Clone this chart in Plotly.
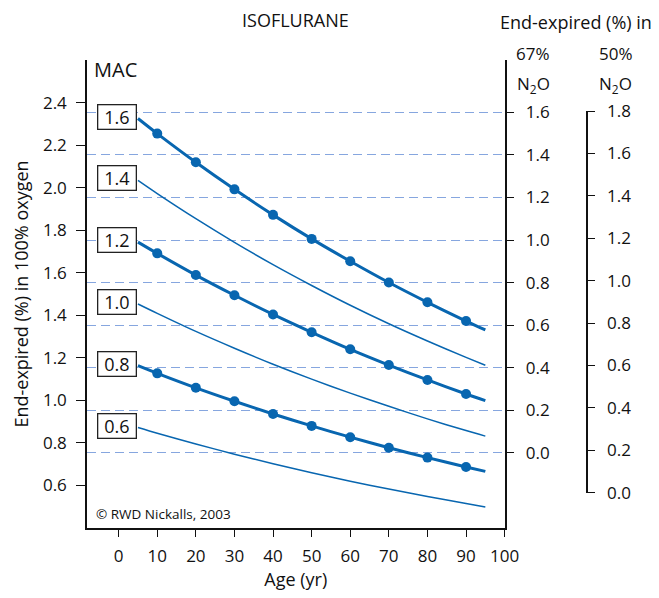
import plotly.graph_objects as go

# ---- data ----
ages = [5, 10, 20, 30, 40, 50, 60, 70, 80, 90, 95]
marker_ages = [10, 20, 30, 40, 50, 60, 70, 80, 90]
mac_labels = ["1.6", "1.4", "1.2", "1.0", "0.8", "0.6"]
mac_1_6 = [2.325, 2.254, 2.119, 1.992, 1.872, 1.759, 1.654, 1.554, 1.461, 1.373, 1.331]
mac_1_4 = [2.034, 1.972, 1.854, 1.743, 1.638, 1.540, 1.447, 1.360, 1.279, 1.202, 1.165]
mac_1_2 = [1.744, 1.691, 1.589, 1.494, 1.404, 1.320, 1.240, 1.166, 1.096, 1.030, 0.999]
mac_1_0 = [1.453, 1.409, 1.324, 1.245, 1.170, 1.100, 1.034, 0.972, 0.913, 0.858, 0.832]
mac_0_8 = [1.163, 1.127, 1.059, 0.996, 0.936, 0.880, 0.827, 0.777, 0.731, 0.687, 0.666]
mac_0_6 = [0.872, 0.845, 0.795, 0.747, 0.702, 0.660, 0.620, 0.583, 0.548, 0.515, 0.499]
series = [mac_1_6, mac_1_4, mac_1_2, mac_1_0, mac_0_8, mac_0_6]
thick = [True, False, True, False, True, False]

x_ticks = [0, 10, 20, 30, 40, 50, 60, 70, 80, 90, 100]
left_ticks = [0.6, 0.8, 1.0, 1.2, 1.4, 1.6, 1.8, 2.0, 2.2, 2.4]
n2o67_ticks = [0.0, 0.2, 0.4, 0.6, 0.8, 1.0, 1.2, 1.4, 1.6]
n2o50_ticks = [0.0, 0.2, 0.4, 0.6, 0.8, 1.0, 1.2, 1.4, 1.6, 1.8]

BLUE = "#0866b0"
GRID = "#86a6df"
FONT = "Open Sans"
INK = "#111"

W, H = 659, 598
ML, MR, MT, MB = 87, 20, 60, 65
PW, PH = W - ML - MR, H - MT - MB


def px(x):
    return (x - ML) / PW


def py(y):
    return (H - MB - y) / PH


fig = go.Figure()
for vals, tk in zip(series, thick):
    fig.add_trace(go.Scatter(x=ages, y=vals, mode="lines",
                             line=dict(color=BLUE, width=3 if tk else 1.5,
                                       shape="spline", smoothing=0.8),
                             showlegend=False, hoverinfo="skip"))
    if tk:
        mv = [v for a, v in zip(ages, vals) if a in marker_ages]
        fig.add_trace(go.Scatter(x=marker_ages, y=mv, mode="markers",
                                 marker=dict(color=BLUE, size=10),
                                 showlegend=False, hoverinfo="skip"))

# dummy traces to activate the extra axes
fig.add_trace(go.Scatter(x=[None], y=[None], yaxis="y2", showlegend=False, hoverinfo="skip"))
fig.add_trace(go.Scatter(x=[None], y=[None], yaxis="y3", showlegend=False, hoverinfo="skip"))

tickfont = dict(family=FONT, size=17, color=INK)
fig.update_layout(
    width=W, height=H,
    margin=dict(l=ML, r=MR, t=MT, b=MB),
    plot_bgcolor="rgba(0,0,0,0)", paper_bgcolor="white",
    font=dict(family=FONT, size=17, color=INK),
    xaxis=dict(domain=[0, px(510)], range=[-8.2, 100], tickvals=x_ticks,
               ticks="outside", ticklen=7, tickwidth=1.3, tickcolor=INK,
               showline=True, linecolor=INK, linewidth=1.5,
               showgrid=False, zeroline=False, tickfont=tickfont,
               ticklabelstandoff=5,
               title=dict(text="Age (yr)", font=dict(family=FONT, size=18), standoff=6)),
    yaxis=dict(range=[0.4, 2.6], tickvals=left_ticks, tickformat=".1f",
               ticks="outside", ticklen=9, tickwidth=1.3, tickcolor=INK,
               showline=True, linecolor=INK, linewidth=1.5,
               showgrid=False, zeroline=False, tickfont=tickfont,
               ticklabelstandoff=6,
               title=dict(text="End-expired (%) in 100% oxygen",
                          font=dict(family=FONT, size=18), standoff=10)),
    yaxis2=dict(overlaying="y", side="right", anchor="x",
                range=[-0.3535, 1.8465], tickvals=n2o67_ticks, tickformat=".1f",
                ticks="outside", ticklen=8, tickwidth=1.3, tickcolor=INK,
                showline=True, linecolor=INK, linewidth=1.5,
                showgrid=True, gridcolor=GRID, gridwidth=1, griddash="9px,5px",
                zeroline=False, tickfont=tickfont, ticklabelstandoff=8),
    yaxis3=dict(anchor="free", position=px(593.3), side="right",
                domain=[py(497.3), py(111.7)],
                range=[0, 1.8], tickvals=n2o50_ticks, tickformat=".1f",
                ticks="outside", ticklen=7, tickwidth=1.3, tickcolor=INK,
                showline=True, linecolor=INK, linewidth=1.5,
                showgrid=False, zeroline=False, tickfont=tickfont,
                ticklabelstandoff=9),
)

ann = []


def txt(text, x, y, size=17, xanchor="center"):
    ann.append(dict(text=text, x=px(x), y=py(y), xref="paper", yref="paper",
                    showarrow=False, xanchor=xanchor, yanchor="middle",
                    font=dict(family=FONT, size=size, color=INK)))


txt("ISOFLURANE", 298, 20, 18)
txt("End-expired (%) in", 582, 22, 18)
txt("67%", 539, 53, 17)
txt("50%", 622.5, 53, 17)
txt("N<sub>2</sub>O", 539, 85, 17)
txt("N<sub>2</sub>O", 622.5, 85, 17)
txt("MAC", 92, 70, 20, xanchor="left")
txt("© RWD Nickalls, 2003", 94, 519, 13.5, xanchor="left")

for lab, vals in zip(mac_labels, series):
    ann.append(dict(text=lab, x=-0.4, y=vals[0], xref="x", yref="y",
                    yshift=2, showarrow=False, xanchor="center", yanchor="middle",
                    width=35, height=21, borderpad=1, borderwidth=1.3,
                    bordercolor="#222", bgcolor="white",
                    font=dict(family=FONT, size=18, color=INK)))

fig.update_layout(annotations=ann)
fig.write_html("out.html")
